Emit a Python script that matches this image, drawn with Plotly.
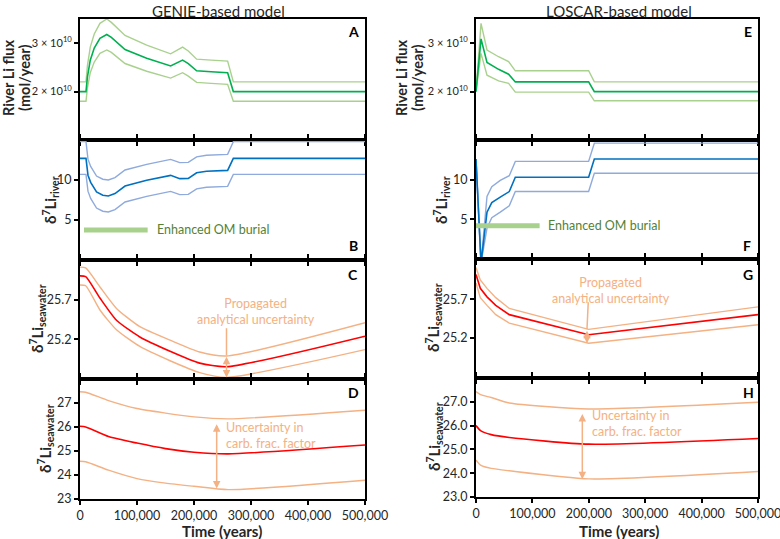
import plotly.graph_objects as go

W, H = 780, 539

# ---------------- data ----------------
# GENIE river Li flux (panel A), units 1e10 mol/yr
genie_flux_t = [0, 10500, 13000, 18000, 25000, 35000, 47000, 55000, 79000, 117000, 159000, 170000, 180000, 190000, 204600, 230000, 259000, 269000, 500000]
genie_flux_mid = [2.0, 2.0, 2.3, 2.65, 2.9, 3.1, 3.18, 3.12, 2.87, 2.69, 2.53, 2.6, 2.65, 2.58, 2.43, 2.41, 2.39, 2.0, 2.0]
genie_flux_hi = [2.2, 2.2, 2.53, 2.92, 3.19, 3.41, 3.5, 3.43, 3.16, 2.96, 2.78, 2.86, 2.92, 2.84, 2.67, 2.65, 2.63, 2.2, 2.2]
genie_flux_lo = [1.8, 1.8, 2.07, 2.39, 2.61, 2.79, 2.86, 2.81, 2.58, 2.42, 2.28, 2.34, 2.39, 2.32, 2.19, 2.17, 2.15, 1.8, 1.8]

# LOSCAR river Li flux (panel E)
loscar_flux_t = [0, 8900, 19500, 40000, 57800, 69700, 199700, 209800, 500000]
loscar_flux_mid = [2.0, 3.09, 2.60, 2.46, 2.36, 2.20, 2.20, 2.0, 2.0]
loscar_flux_hi = [2.0, 3.41, 2.86, 2.72, 2.62, 2.43, 2.43, 2.20, 2.20]
loscar_flux_lo = [2.0, 2.79, 2.34, 2.22, 2.17, 1.99, 1.99, 1.81, 1.81]

# GENIE d7Li river (panel B)
genie_riv_t = [0, 10500, 14000, 18700, 29000, 40000, 49700, 61400, 79000, 117000, 159000, 175000, 190000, 204600, 222000, 259000, 269000, 500000]
genie_riv_mid = [12.7, 12.7, 10.6, 9.7, 8.5, 8.1, 8.0, 8.3, 9.25, 9.96, 10.58, 10.17, 10.2, 10.9, 11.1, 11.2, 12.7, 12.7]
genie_riv_hi = [14.8, 14.8, 12.6, 11.7, 10.5, 10.1, 10.0, 10.3, 11.25, 11.96, 12.58, 12.17, 12.2, 12.9, 13.1, 13.2, 14.8, 14.8]
genie_riv_lo = [10.7, 10.7, 8.6, 7.7, 6.5, 6.1, 6.0, 6.3, 7.25, 7.96, 8.58, 8.17, 8.2, 8.9, 9.1, 9.2, 10.7, 10.7]

# LOSCAR d7Li river (panel F)
loscar_riv_t = [0, 8900, 19500, 28000, 43000, 59000, 69700, 199700, 209800, 500000]
loscar_riv_mid = [12.6, -0.5, 5.9, 7.1, 7.8, 8.5, 10.3, 10.3, 12.6, 12.6]
loscar_riv_hi = [12.6, -0.5, 7.9, 9.1, 9.9, 10.5, 12.3, 12.3, 14.6, 14.6]
loscar_riv_lo = [12.6, -0.5, 3.9, 5.2, 5.9, 6.7, 8.5, 8.5, 10.8, 10.8]

# Enhanced OM burial interval
genie_om = [7000, 118700]
genie_om_level = 3.76
loscar_om = [0, 112800]
loscar_om_level = 4.18

# GENIE d7Li seawater, analytical uncertainty (panel C)
genie_sw_t = [0, 10000, 35000, 64000, 105000, 158000, 210000, 257000, 500000]
genie_sw_mid = [26.0, 25.99, 25.72, 25.44, 25.23, 25.05, 24.9, 24.855, 25.24]
genie_sw_hi = [26.11, 26.1, 25.86, 25.59, 25.36, 25.19, 25.04, 24.99, 25.41]
genie_sw_lo = [25.885, 25.875, 25.57, 25.32, 25.11, 24.93, 24.78, 24.72, 25.07]

# GENIE d7Li seawater, carb. frac. factor uncertainty (panel D)
genie_cf_t = [0, 10000, 50000, 100000, 150000, 200000, 260000, 500000]
genie_cf_mid = [26.03, 26.0, 25.6, 25.33, 25.1, 24.95, 24.88, 25.25]
genie_cf_hi = [27.47, 27.45, 27.1, 26.77, 26.58, 26.42, 26.34, 26.7]
genie_cf_lo = [24.57, 24.55, 24.2, 23.85, 23.66, 23.53, 23.39, 23.78]

# LOSCAR d7Li seawater, analytical uncertainty (panel G)
loscar_sw_t = [0, 7600, 19500, 35000, 59000, 199700, 500000]
loscar_sw_mid = [26.02, 25.84, 25.73, 25.62, 25.5, 25.24, 25.5]
loscar_sw_hi = [26.11, 25.95, 25.84, 25.72, 25.58, 25.31, 25.60]
loscar_sw_lo = [25.91, 25.72, 25.62, 25.5, 25.39, 25.13, 25.37]

# LOSCAR d7Li seawater, carb. frac. factor uncertainty (panel H)
loscar_cf_t = [0, 8000, 27000, 59000, 199700, 500000]
loscar_cf_mid = [26.0, 25.79, 25.62, 25.5, 25.22, 25.46]
loscar_cf_hi = [27.43, 27.3, 27.18, 26.95, 26.7, 26.98]
loscar_cf_lo = [24.55, 24.34, 24.2, 24.1, 23.76, 24.07]

x_ticks = [0, 100000, 200000, 300000, 400000, 500000]
x_ticktext = ["0", "100,000", "200,000", "300,000", "400,000", "500,000"]

# ---------------- styling ----------------
FONT = "Lato, 'Open Sans', sans-serif"
GREEN, LGREEN = "#00B050", "#A9D18E"
BLUE, LBLUE = "#0070C0", "#8FAADC"
RED, ORANGE = "#FF0000", "#F4B183"
OLIVE = "#548235"

def fx(p):
    return p / W

def fy(p):
    return 1 - p / H

left_x = [80, 365]
right_x = [476, 758]
left_rows = [(19, 140), (140, 260), (260, 379), (379, 499)]
right_rows = [(19, 140), (140, 259), (259, 378), (378, 497)]

def axname(i, kind):
    return kind if i == 1 else f"{kind}{i}"

fig = go.Figure()

def add_band(i, t, mid, hi, lo, cmid, cband, shape="linear"):
    for ys, c, w in [(hi, cband, 1.4), (lo, cband, 1.4), (mid, cmid, 1.6)]:
        fig.add_trace(go.Scatter(x=t, y=ys, mode="lines",
                                 line=dict(color=c, width=w, shape=shape, smoothing=0.6),
                                 xaxis=axname(i, "x"), yaxis=axname(i, "y"),
                                 showlegend=False, hoverinfo="skip"))

add_band(1, genie_flux_t, [v * 1e10 for v in genie_flux_mid], [v * 1e10 for v in genie_flux_hi],
         [v * 1e10 for v in genie_flux_lo], GREEN, LGREEN)
add_band(2, genie_riv_t, genie_riv_mid, genie_riv_hi, genie_riv_lo, BLUE, LBLUE)
add_band(3, genie_sw_t, genie_sw_mid, genie_sw_hi, genie_sw_lo, RED, ORANGE, "spline")
add_band(4, genie_cf_t, genie_cf_mid, genie_cf_hi, genie_cf_lo, RED, ORANGE, "spline")
add_band(5, loscar_flux_t, [v * 1e10 for v in loscar_flux_mid], [v * 1e10 for v in loscar_flux_hi],
         [v * 1e10 for v in loscar_flux_lo], GREEN, LGREEN)
add_band(6, loscar_riv_t, loscar_riv_mid, loscar_riv_hi, loscar_riv_lo, BLUE, LBLUE)
add_band(7, loscar_sw_t, loscar_sw_mid, loscar_sw_hi, loscar_sw_lo, RED, ORANGE)
add_band(8, loscar_cf_t, loscar_cf_mid, loscar_cf_hi, loscar_cf_lo, RED, ORANGE, "spline")

# OM burial bars
for i, span, lvl in [(2, genie_om, genie_om_level), (6, loscar_om, loscar_om_level)]:
    fig.add_trace(go.Scatter(x=span, y=[lvl, lvl], mode="lines",
                             line=dict(color=LGREEN, width=5),
                             xaxis=axname(i, "x"), yaxis=axname(i, "y"),
                             showlegend=False, hoverinfo="skip"))

y_ranges = {1: [1.0e10, 3.5e10], 2: [0, 15], 3: [24.7, 26.2], 4: [23, 28],
            5: [1.0e10, 3.5e10], 6: [0, 15], 7: [24.68, 26.22], 8: [23, 28]}
y_ticks = {1: ([2e10, 3e10], ["2 × 10<sup>10</sup>", "3 × 10<sup>10</sup>"]),
           2: ([5, 10], ["5", "10"]),
           3: ([25.2, 25.7], ["25.2", "25.7"]),
           4: ([23, 24, 25, 26, 27], ["23", "24", "25", "26", "27"]),
           5: ([2e10, 3e10], ["2 × 10<sup>10</sup>", "3 × 10<sup>10</sup>"]),
           6: ([5, 10], ["5", "10"]),
           7: ([25.2, 25.7], ["25.2", "25.7"]),
           8: ([23, 24, 25, 26, 27], ["23.0", "24.0", "25.0", "26.0", "27.0"])}

layout = {}
for i in range(1, 9):
    col_x = left_x if i <= 4 else right_x
    rows = left_rows if i <= 4 else right_rows
    top, bot = rows[(i - 1) % 4]
    bottom_panel = i in (4, 8)
    top_panel = i in (1, 5)
    layout[f"xaxis{i}"] = dict(
        domain=[fx(col_x[0]), fx(col_x[1])], anchor=axname(i, "y"),
        range=[0, 500000], showline=True, linecolor="black", linewidth=2,
        mirror=True if top_panel else "ticks", ticks="outside", ticklen=4,
        tickwidth=1.5, tickcolor="black", tickvals=x_ticks, ticktext=x_ticktext,
        showticklabels=bottom_panel, showgrid=False, zeroline=False, automargin=False,
        ticklabeloverflow="allow",
        tickfont=dict(family=FONT, size=12.5, color="#262626"), fixedrange=True)
    tv, tt = y_ticks[i]
    layout[f"yaxis{i}"] = dict(
        domain=[fy(bot), fy(top)], anchor=axname(i, "x"), range=y_ranges[i],
        showline=True, linecolor="black", linewidth=2, mirror=True,
        ticks="outside", ticklen=4, tickwidth=1.5, tickcolor="black",
        tickvals=tv, ticktext=tt, showgrid=False, zeroline=False, automargin=False,
        ticklabeloverflow="allow",
        tickfont=dict(family=FONT, size=11 if i in (1, 5) else 12.5, color="#262626"),
        fixedrange=True)

ann = []

def pann(text, cx, cy, size, color="#262626", angle=0):
    ann.append(dict(text=text, x=fx(cx), y=fy(cy), xref="paper", yref="paper",
                    xanchor="center", yanchor="middle", textangle=angle,
                    showarrow=False, font=dict(family=FONT, size=size, color=color)))

# column titles
pann("GENIE-based model", 218, 11, 15)
pann("LOSCAR-based model", 619, 11, 15)
# x titles
pann("<b>Time (years)</b>", 222, 531, 15)
pann("<b>Time (years)</b>", 619, 531, 15)
# y titles
ytitles = [
    ("<b>River Li flux</b>", 9, 78, 14.5),
    ("<b>(mol/year)</b>", 25, 78, 14.5),
    ("<b>δ<sup>7</sup>Li<sub>river</sub></b>", 50, 200, 15),
    ("<b>δ<sup>7</sup>Li<sub>seawater</sub></b>", 37, 319, 15),
    ("<b>δ<sup>7</sup>Li<sub>seawater</sub></b>", 45, 439, 15),
    ("<b>River Li flux</b>", 402, 78, 14.5),
    ("<b>(mol/year)</b>", 418, 78, 14.5),
    ("<b>δ<sup>7</sup>Li<sub>river</sub></b>", 441, 200, 15),
    ("<b>δ<sup>7</sup>Li<sub>seawater</sub></b>", 433, 318, 15),
    ("<b>δ<sup>7</sup>Li<sub>seawater</sub></b>", 434, 437, 15),
]
for txt, cx, cy, sz in ytitles:
    pann(txt, cx, cy, sz, angle=-90)
# panel letters
letters = [("A", 353, 31), ("B", 353, 245), ("C", 353, 274), ("D", 353, 392),
           ("E", 748, 31), ("F", 747, 245), ("G", 748, 274), ("H", 748, 392)]
for L, cx, cy in letters:
    pann(f"<b>{L}</b>", cx, cy, 14, color="black")

# OM burial labels
ann.append(dict(text="Enhanced OM burial", x=131500, y=genie_om_level, xref="x2", yref="y2",
                xanchor="left", yanchor="middle", showarrow=False,
                font=dict(family=FONT, size=12.5, color=OLIVE)))
ann.append(dict(text="Enhanced OM burial", x=124000, y=loscar_om_level, xref="x6", yref="y6",
                xanchor="left", yanchor="middle", showarrow=False,
                font=dict(family=FONT, size=12.5, color=OLIVE)))

# uncertainty labels
ann.append(dict(text="Propagated<br>analytical uncertainty", x=308000, y=25.545, xref="x3", yref="y3",
                xanchor="center", yanchor="middle", showarrow=False,
                font=dict(family=FONT, size=12.5, color=ORANGE)))
ann.append(dict(text="Uncertainty in<br>carb. frac. factor", x=252600, y=25.65, xref="x4", yref="y4",
                xanchor="left", yanchor="middle", align="left", showarrow=False,
                font=dict(family=FONT, size=12.5, color=ORANGE)))
ann.append(dict(text="Propagated<br>analytical uncertainty", x=240000, y=25.81, xref="x7", yref="y7",
                xanchor="center", yanchor="middle", showarrow=False,
                font=dict(family=FONT, size=12.5, color=ORANGE)))
ann.append(dict(text="Uncertainty in<br>carb. frac. factor", x=202600, y=26.07, xref="x8", yref="y8",
                xanchor="left", yanchor="middle", align="left", showarrow=False,
                font=dict(family=FONT, size=12.5, color=ORANGE)))

# arrows (double headed)
arrows = [(3, 257000, 25.0, 24.72), (4, 239800, 26.18, 23.44),
          (7, 196800, 25.31, 25.13), (8, 188500, 26.55, 23.75)]
for i, xt, y1, y2 in arrows:
    ann.append(dict(text="", x=xt, y=y2, ax=xt, ay=y1, xref=f"x{i}", yref=f"y{i}",
                    axref=f"x{i}", ayref=f"y{i}", showarrow=True, arrowhead=2, startarrowhead=2,
                    arrowside="end+start", arrowsize=1, arrowwidth=1.5, arrowcolor=ORANGE))

shapes = [
    dict(type="line", xref="x3", yref="y3", x0=257000, x1=257000, y0=25.34, y1=25.0,
         line=dict(color=ORANGE, width=1.5)),
    dict(type="line", xref="x7", yref="y7", x0=199000, x1=196800, y0=25.66, y1=25.31,
         line=dict(color=ORANGE, width=1.5)),
]

fig.update_layout(
    width=W, height=H, margin=dict(l=0, r=0, t=0, b=0, autoexpand=False),
    paper_bgcolor="white", plot_bgcolor="white",
    annotations=ann, shapes=shapes, showlegend=False,
    font=dict(family=FONT), **layout)

fig.write_html("out.html", config={"displayModeBar": False},
               post_script="document.body.style.margin='0';document.body.style.overflow='hidden';")
